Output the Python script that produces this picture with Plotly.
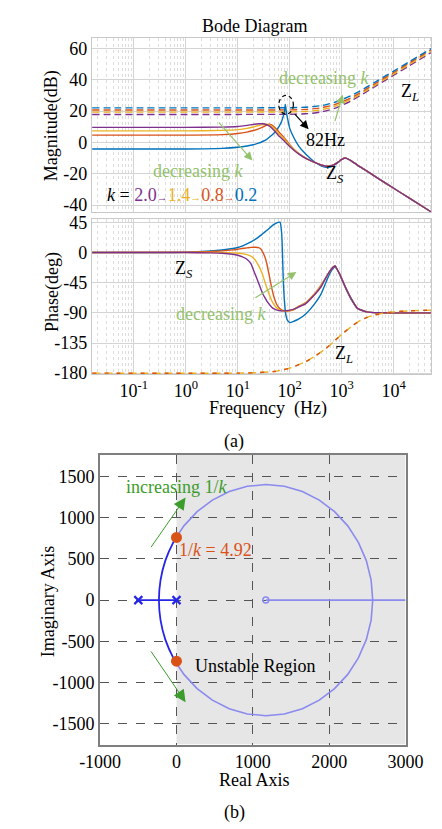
import numpy as np
import plotly.graph_objects as go

FONT = "Liberation Serif, Times New Roman, serif"
C_BLUE, C_ORANGE, C_YELLOW, C_PURPLE = "#0072BD", "#D95319", "#EDB120", "#7E2F8E"
G_LIGHT, G_DARK = "#93c26b", "#3c9c2c"

# ---------------- Bode magnitude: Z_S (solid) ----------------
f_mag = [0.0158, 1, 5, 10, 15, 20, 25, 30, 36, 40, 45, 50, 55, 60, 65, 70, 75, 80, 82, 85, 90,
         100, 120, 150, 200, 250, 300, 400, 500, 600, 700, 850, 1000, 1200, 1500, 2000, 3000,
         5000, 10000, 20000, 52000]
tail_mag = [-10.1, -11.6, -12.8, -14.4, -15.2, -15.1, -14.4, -12.6, -10.8, -10.0, -11.6, -14.5,
            -18.2, -23.0, -29.3, -35.6, -44.3]
mag_zs_k20 = [9.6, 9.6, 9.8, 10.2, 10.9, 11.5, 11.95, 11.9, 11.3, 10.6, 9.2, 7.6, 6.0, 4.6, 3.5,
              2.5, 1.5, 0.6, 0.2, -0.3, -1.2, -2.6, -5.0, -7.5] + tail_mag
mag_zs_k14 = [7.4, 7.4, 7.7, 8.2, 9.0, 9.9, 10.8, 11.4, 11.6, 11.3, 10.3, 8.9, 7.4, 6.0, 4.8,
              3.8, 2.8, 1.8, 1.3, 0.8, -0.2, -2.0, -4.6, -7.3] + [-10.0] + tail_mag[1:]
mag_zs_k08 = [4.7, 4.7, 5.0, 5.7, 6.6, 7.6, 8.7, 9.8, 11.0, 11.6, 11.2, 10.0, 8.6, 7.2, 5.9,
              4.8, 3.7, 2.6, 2.1, 1.6, 0.5, -1.5, -4.3, -7.1] + [-9.9] + tail_mag[1:]
mag_zs_k02 = [-4.2, -4.2, -3.8, -3.1, -2.3, -1.5, -0.5, 0.6, 2.0, 3.2, 4.6, 6.0, 7.5, 9.4, 11.4,
              13.6, 16.8, 21.0, 24.2, 20.5, 15.8, 9.0, 3.0, -2.5, -7.3, -10.3, -12.5, -14.9,
              -15.9, -15.8, -14.8, -12.8, -10.9, -10.0, -11.6, -14.5, -18.2, -23.0, -29.3,
              -35.6, -44.3]

# ---------------- Bode magnitude: Z_L (dashed) ----------------
f_zl = [0.0158, 10, 100, 200, 300, 400, 500, 700, 1000, 1500, 2000, 3000, 5000, 10000, 20000, 52000]
mag_zl_k02 = [22.1, 22.1, 22.2, 22.5, 23.0, 23.5, 24.2, 25.4, 27.3, 29.9, 32.0, 35.3, 39.7, 45.6, 51.6, 59.9]
mag_zl_k08 = [20.7, 20.7, 20.8, 21.1, 21.6, 22.1, 22.8, 24.0, 25.9, 28.5, 30.7, 34.2, 38.7, 44.7, 50.8, 59.1]
mag_zl_k14 = [19.4, 19.4, 19.5, 19.8, 20.3, 20.9, 21.5, 22.8, 24.8, 27.5, 29.8, 33.3, 37.8, 43.8, 49.9, 58.2]
mag_zl_k20 = [17.9, 17.9, 18.0, 18.3, 18.8, 19.5, 20.2, 21.6, 23.7, 26.5, 28.9, 32.4, 37.0, 43.0, 49.0, 57.4]

# ---------------- Bode phase ----------------
f_ph = [0.0158, 1, 3, 5, 8, 10, 12, 15, 18, 20, 22, 25, 28, 30, 33, 36, 40, 45, 50, 55, 60, 65,
        70, 75, 80, 85, 90, 100, 120, 150, 200, 300, 400, 500, 600, 700, 750, 800, 900, 1000,
        1200, 1500, 2000, 3000, 5000, 52000]
ph_tail = [-37, -27, -21, -20, -24, -31, -39, -53, -68, -83, -88.5, -89.8, -90]
ph_zs_k20 = [0, 0, -0.5, -1, -2.5, -4, -6, -10, -17, -26, -34, -45, -55, -61, -67, -72, -77,
             -81.5, -84, -85.5, -86.3, -86.8, -87, -87, -87, -86.8, -86.6, -86, -84.5, -81,
             -76.5, -63, -51] + ph_tail
ph_zs_k14 = [0, 0, 0, 0, -0.5, -1, -1.5, -3, -5.5, -8, -12, -19, -27, -33, -43, -52, -62, -72,
             -78, -82, -84.5, -85.8, -86.5, -87, -87.2, -87.2, -87, -86.5, -85, -80.5, -75.5,
             -62, -49.5] + ph_tail
ph_zs_k08 = [0, 0.5, 1.5, 2.5, 4, 5, 6, 7, 7.8, 8, 8, 7.3, 5, 1, -6, -16, -33, -53, -67, -76,
             -81, -84, -85.5, -86.5, -87, -87.2, -87.2, -87, -85, -80, -75, -61.5, -48.5] + ph_tail
ph_zs_k02 = [0, 0.5, 2.3, 3.8, 6, 7.5, 9.5, 13, 16, 18, 20, 23, 26, 28, 30.5, 33, 36, 39.5, 42,
             43.8, 45, 45.5, 28, -40, -78, -95, -101, -104.5, -102.5, -99, -92, -76.5, -62,
             -44, -30, -22.5, -21.5, -24, -32, -40, -54, -69, -83.5, -88.5, -90, -90]
f_ph_zl = [0.0158, 10, 20, 50, 100, 200, 300, 500, 700, 1000, 1500, 2000, 3000, 5000, 10000, 20000, 52000]
ph_zl = [-180, -180, -179.5, -177.5, -172.5, -163, -155, -143, -133, -122, -111, -104, -97, -92,
         -88.5, -87, -86]

# ---------------- Root locus ----------------
rl_stable_re = [0, -42, -146, -209, -230, -209, -146, -42, 0]
rl_stable_im = [765, 700, 479, 243, 0, -243, -479, -700, -765]
rl_real_re = [-500, 0]
rl_real_im = [0, 0]
rl_unst_re = [0, 97, 270, 470, 691, 927, 1170, 1413, 1649, 1870, 2070, 2243, 2382, 2486, 2549, 2570,
              2549, 2486, 2382, 2243, 2070, 1870, 1649, 1413, 1170, 927, 691, 470, 270, 97, 0]
rl_unst_im = [765, 900, 1072, 1212, 1315, 1379, 1400, 1379, 1315, 1212, 1072, 900, 700, 479, 243, 0,
              -243, -479, -700, -900, -1072, -1212, -1315, -1379, -1400, -1379, -1315, -1212,
              -1072, -900, -765]
rl_zero_branch_re = [1170, 3000]
rl_zero_branch_im = [0, 0]
poles_re, poles_im = [-500, 0], [0, 0]
zeros_re, zeros_im = [1170], [0]
crit_re, crit_im = [0, 0], [760, -740]

ks = ["2.0", "1.4", "0.8", "0.2"]
cols = [C_PURPLE, C_YELLOW, C_ORANGE, C_BLUE]

fig = go.Figure()
LW = 1.4
for y, c in zip([mag_zl_k20, mag_zl_k14, mag_zl_k08, mag_zl_k02], cols):
    fig.add_trace(go.Scatter(x=f_zl, y=y, mode="lines", line=dict(color=c, width=LW, dash="7px,4px", shape="spline", smoothing=0.6),
                             xaxis="x", yaxis="y", showlegend=False))
for y, c in zip([mag_zs_k02, mag_zs_k08, mag_zs_k14, mag_zs_k20], [C_BLUE, C_ORANGE, C_YELLOW, C_PURPLE]):
    fig.add_trace(go.Scatter(x=f_mag, y=y, mode="lines", line=dict(color=c, width=LW, shape="spline", smoothing=0.5),
                             xaxis="x", yaxis="y", showlegend=False))
for y, c in zip([ph_zs_k02, ph_zs_k08, ph_zs_k14, ph_zs_k20], [C_BLUE, C_ORANGE, C_YELLOW, C_PURPLE]):
    fig.add_trace(go.Scatter(x=f_ph, y=y, mode="lines", line=dict(color=c, width=LW, shape="spline", smoothing=0.5),
                             xaxis="x2", yaxis="y2", showlegend=False))
fig.add_trace(go.Scatter(x=f_ph_zl, y=ph_zl, mode="lines", line=dict(color=C_YELLOW, width=LW, dash="8px,4px", shape="spline", smoothing=0.6),
                         xaxis="x2", yaxis="y2", showlegend=False))
fig.add_trace(go.Scatter(x=f_ph_zl, y=ph_zl, mode="lines", line=dict(color=C_ORANGE, width=LW, dash="4px,8px", shape="spline", smoothing=0.6),
                         xaxis="x2", yaxis="y2", showlegend=False))

# root locus
RL_DARK, RL_LIGHT = "#2626e6", "#8a8aef"
fig.add_trace(go.Scatter(x=rl_unst_re, y=rl_unst_im, mode="lines", line=dict(color=RL_LIGHT, width=1.6),
                         xaxis="x3", yaxis="y3", showlegend=False))
fig.add_trace(go.Scatter(x=rl_zero_branch_re, y=rl_zero_branch_im, mode="lines", line=dict(color=RL_LIGHT, width=1.6),
                         xaxis="x3", yaxis="y3", showlegend=False))
fig.add_trace(go.Scatter(x=rl_stable_re, y=rl_stable_im, mode="lines", line=dict(color=RL_DARK, width=1.8, shape="spline"),
                         xaxis="x3", yaxis="y3", showlegend=False))
fig.add_trace(go.Scatter(x=rl_real_re, y=rl_real_im, mode="lines", line=dict(color=RL_DARK, width=1.8),
                         xaxis="x3", yaxis="y3", showlegend=False))
fig.add_trace(go.Scatter(x=poles_re, y=poles_im, mode="markers",
                         marker=dict(symbol="x-thin-open", size=8, color=RL_DARK, line=dict(color=RL_DARK, width=2.2)),
                         xaxis="x3", yaxis="y3", showlegend=False))
fig.add_trace(go.Scatter(x=zeros_re, y=zeros_im, mode="markers",
                         marker=dict(symbol="circle-open", size=6, color=RL_LIGHT, line=dict(color=RL_LIGHT, width=1.5)),
                         xaxis="x3", yaxis="y3", showlegend=False))
fig.add_trace(go.Scatter(x=crit_re, y=crit_im, mode="markers",
                         marker=dict(symbol="circle", size=11, color=C_ORANGE),
                         xaxis="x3", yaxis="y3", showlegend=False))

TF = dict(family=FONT, size=18, color="black")
dec = [0.1, 1, 10, 100, 1000, 10000]
dec_txt = ["10<sup>-1</sup>", "10<sup>0</sup>", "10<sup>1</sup>", "10<sup>2</sup>", "10<sup>3</sup>", "10<sup>4</sup>"]
XR = [-1.807, 4.719]
common_log = dict(type="log", range=XR, tickvals=dec, ticktext=dec_txt, showgrid=True, gridcolor="#d4d4d4",
                  gridwidth=1, showline=True, mirror=True, linecolor="#c8c8c8", linewidth=1.2, ticks="",
                  zeroline=False, tickfont=TF,
                  minor=dict(dtick="D1", showgrid=True, gridcolor="#dcdcdc", griddash="dot", gridwidth=1, ticks=""))
fig.update_layout(
    width=442, height=829, margin=dict(l=0, r=0, t=0, b=0),
    paper_bgcolor="white", plot_bgcolor="white", font=dict(family=FONT, size=18, color="black"),
    xaxis=dict(common_log, domain=[0.1561, 0.9977], anchor="y", showticklabels=False),
    yaxis=dict(domain=[0.7563, 0.9710], range=[-44.7, 67], tickvals=[-40, -20, 0, 20, 40, 60],
               ticktext=["-40", "-20", "0", "20", "40", "60"], showgrid=True, gridcolor="#d4d4d4",
               showline=True, mirror=True, linecolor="#c8c8c8", linewidth=1.2, ticks="", zeroline=False,
               tickfont=TF, anchor="x"),
    xaxis2=dict(common_log, domain=[0.1561, 0.9977], anchor="y2"),
    yaxis2=dict(domain=[0.5573, 0.7479], range=[-181.8, 49.8], tickvals=[-180, -135, -90, -45, 0, 45],
                ticktext=["-180", "-135", "-90", "-45", "0", "45"], showgrid=True, gridcolor="#d4d4d4",
                showline=True, mirror=True, linecolor="#c8c8c8", linewidth=1.2, ticks="", zeroline=False,
                tickfont=TF, anchor="x2"),
    xaxis3=dict(domain=[0.1765, 0.9344], range=[-1000, 3000], tickvals=[-1000, 0, 1000, 2000, 3000],
                ticktext=["-1000", "0", "1000", "2000", "3000"], showgrid=True, gridcolor="#555555",
                griddash="dash", gridwidth=1, showline=True, mirror=True, linecolor="#7f7f7f", linewidth=2,
                ticks="", zeroline=False, tickfont=TF, anchor="y3"),
    yaxis3=dict(domain=[0.1025, 0.4584], range=[-1750, 1760], tickvals=[-1500, -1000, -500, 0, 500, 1000, 1500],
                ticktext=["-1500", "-1000", "-500", "0", "500", "1000", "1500"], showgrid=True,
                gridcolor="#555555", griddash="dash", gridwidth=1, showline=True, mirror=True,
                linecolor="#7f7f7f", linewidth=2, ticks="", zeroline=False, tickfont=TF, anchor="x3"),
)

# shaded unstable region and dashed marker circle around the 82 Hz peak
fig.add_shape(type="rect", xref="x3", yref="y3", x0=0, x1=3000, y0=-1750, y1=1760,
              fillcolor="#e6e6e6", line=dict(width=0), layer="below")
fig.add_shape(type="circle", xref="x domain", yref="y domain", x0=0.551, x1=0.594, y0=0.562, y1=0.669,
              line=dict(color="black", width=1.2, dash="4px,3px"))

L = np.log10
ann = []
def txt(x, y, s, xref="paper", yref="paper", color="black", size=18, xanchor="center", yanchor="middle", **kw):
    ann.append(dict(x=x, y=y, text=s, xref=xref, yref=yref, showarrow=False, xanchor=xanchor, yanchor=yanchor,
                    font=dict(family=FONT, size=size, color=color), **kw))
def arr(x, y, ax, ay, xr, yr, color, width=1.2, size=1.4, head=2):
    ann.append(dict(x=x, y=y, ax=ax, ay=ay, xref=xr, yref=yr, axref=xr, ayref=yr, text="",
                    showarrow=True, arrowhead=head, arrowsize=size, arrowwidth=width, arrowcolor=color))

# titles
txt(0.559, 0.9855, "Bode Diagram", size=18)
txt(0.0566, 0.863, "Magnitude(dB)", textangle=-90)
txt(0.0566, 0.6582, "Phase(deg)", textangle=-90)
txt(0.592, 0.5148, "Frequency  (Hz)")
txt(0.509, 0.4753, "(a)")
txt(0.049, 0.2783, "Imaginary Axis", textangle=-90)
txt(0.5588, 0.0585, "Real Axis")
txt(0.509, 0.0193, "(b)")

# magnitude annotations
txt(L(447), 41, "decreasing <i>k</i>", "x", "y", color=G_LIGHT)
arr(L(1047), 30.5, L(724), 12.7, "x", "y", G_LIGHT)
txt(L(1.69), -18.2, "decreasing <i>k</i>", "x", "y", color=G_LIGHT)
arr(L(19.1), -11.5, L(4.06), 13.8, "x", "y", G_LIGHT)
arr(L(230.7), 8.5, L(117.6), 19, "x", "y", "black")
txt(L(483), 1.3, "82Hz", "x", "y")
txt(L(753), -20.8, "Z<sub><i>S</i></sub>", "x", "y")
txt(L(20700), 31.6, "Z<sub><i>L</i></sub>", "x", "y")
ktxt = "<i>k</i> = " + "".join(
    (f'<span style="color:{c}">{k}</span>' + (f'<span style="color:{c};font-size:11px">\u2192</span>' if i < 3 else ""))
    for i, (k, c) in enumerate(zip(ks, cols)))
txt(L(0.0275), -33.4, ktxt, "x", "y", xanchor="left")

# phase annotations
txt(-0.035, -25, "Z<sub><i>S</i></sub>", "x2", "y2")
txt(0.684, -91, "decreasing <i>k</i>", "x2", "y2", color=G_LIGHT)
arr(2.128, -29, 1.31, -69, "x2", "y2", G_LIGHT)
txt(3.035, -152, "Z<sub><i>L</i></sub>", "x2", "y2")

# root locus annotations
txt(3, 1367, "increasing 1/<i>k</i>", "x3", "y3", color=G_DARK)
arr(119, 1243, -347, 623, "x3", "y3", G_DARK, width=1, size=2.4)
arr(119, -1236, -347, -603, "x3", "y3", G_DARK, width=1, size=2.4)
txt(516, 611, "1/<i>k</i> = 4.92", "x3", "y3", color=C_ORANGE)
txt(1026, -800, "Unstable Region", "x3", "y3")

fig.update_layout(annotations=ann)
fig.write_html("out.html")
